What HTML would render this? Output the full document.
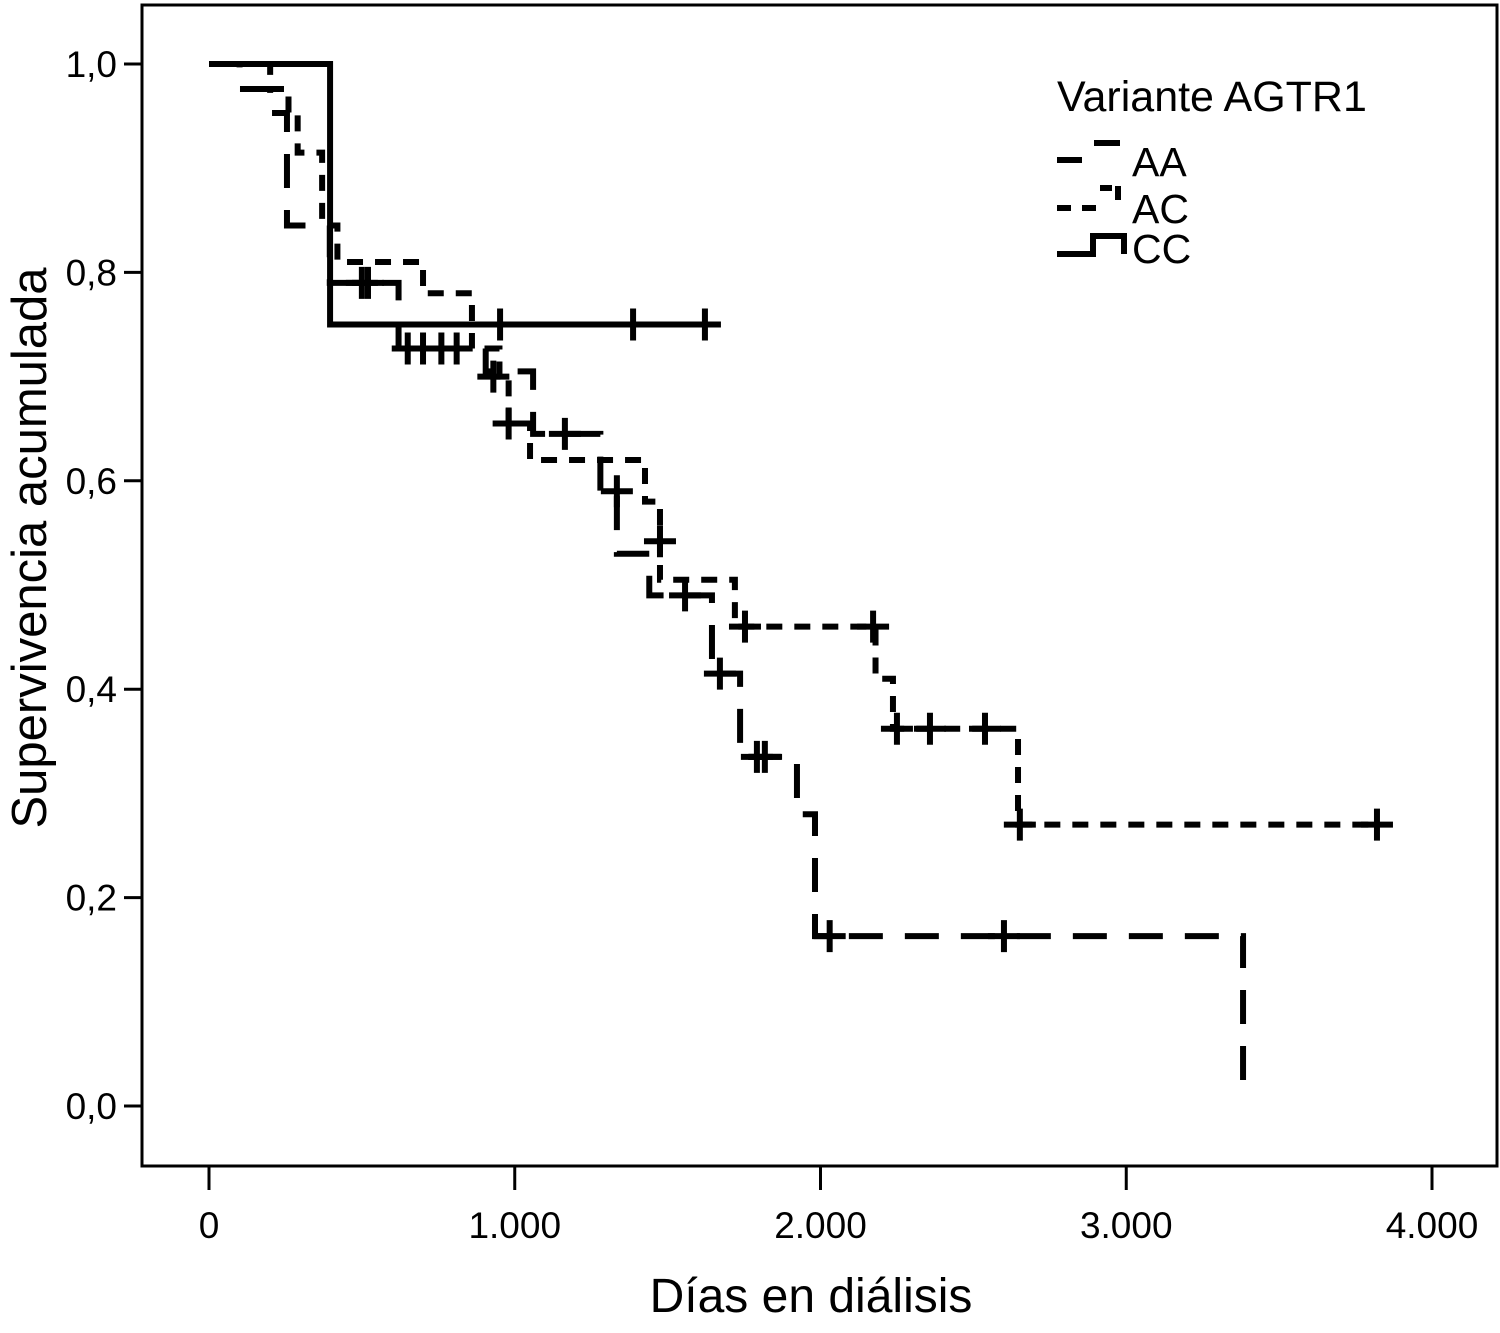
<!DOCTYPE html>
<html><head><meta charset="utf-8"><style>
body{margin:0;background:#fff}
svg{display:block}
text{font-family:"Liberation Sans",Arial,sans-serif;fill:#000}
</style></head><body>
<svg id="chart" width="1500" height="1333" viewBox="0 0 1500 1333" xmlns="http://www.w3.org/2000/svg">
<rect x="142" y="5" width="1355" height="1161" fill="none" stroke="#000" stroke-width="3"/>
<g id="axes"></g>
<g id="series"></g>
<text transform="translate(46,548) rotate(-90)" text-anchor="middle" font-size="49">Supervivencia acumulada</text>
<text x="811" y="1312" text-anchor="middle" font-size="48">Días en diálisis</text>
<g>
<text x="1057" y="111" font-size="43">Variante AGTR1</text>
<path d="M1057 160 H1082 M1094 143 H1120" stroke="#000" stroke-width="6" fill="none"/>
<text x="1132" y="176" font-size="41">AA</text>
<path d="M1057 208 H1071 M1082 208 H1096 M1100 188 H1112 M1118 186 V200" stroke="#000" stroke-width="6" fill="none"/>
<text x="1132" y="223" font-size="41">AC</text>
<path d="M1057 254 H1093 V236 H1124 V254" stroke="#000" stroke-width="6" fill="none"/>
<text x="1132" y="263" font-size="41">CC</text>
</g>
</svg>
<script>
const xTicks=[0,1000,2000,3000,4000];
const xTickLabels=["0","1.000","2.000","3.000","4.000"];
const yTicks=[0,0.2,0.4,0.6,0.8,1.0];
const yTickLabels=["0,0","0,2","0,4","0,6","0,8","1,0"];
const aaTimes=[0,100,200,255,395,620,905,1060,1280,1334,1440,1645,1737,1923,1982,3382];
const aaSurv=[1,0.976,0.953,0.845,0.79,0.727,0.705,0.645,0.59,0.53,0.49,0.415,0.335,0.28,0.163,0.02];
const aaEnd=3382;
const aaCensT=[520,1164,1334,1557,1671,1792,1818,2030,2600];
const aaCensS=[0.79,0.645,0.59,0.49,0.415,0.335,0.335,0.163,0.163];
const acTimes=[0,200,260,290,370,420,700,860,950,980,1050,1426,1475,1720,2180,2237,2646];
const acSurv=[1,0.976,0.953,0.915,0.845,0.81,0.78,0.727,0.70,0.655,0.62,0.58,0.505,0.46,0.41,0.362,0.27];
const acEnd=3820;
const acCensT=[500,650,700,760,810,930,980,1475,1753,2172,2250,2358,2538,2652,3820];
const acCensS=[0.79,0.727,0.727,0.727,0.727,0.70,0.655,0.542,0.46,0.46,0.362,0.362,0.362,0.27,0.27];
const ccTimes=[0,396];
const ccSurv=[1,0.75];
const ccEnd=1661;
const ccCensT=[952,1387,1622];
const ccCensS=[0.75,0.75,0.75];

const X=d=>209+d*0.30575;
const Y=s=>1106-s*1042;
const NS="http://www.w3.org/2000/svg";
const axes=document.getElementById('axes');
const ser=document.getElementById('series');
function mk(tag,attrs,parent){const e=document.createElementNS(NS,tag);for(const k in attrs)e.setAttribute(k,attrs[k]);parent.appendChild(e);return e;}
xTicks.forEach((t,i)=>{
  const l=mk('line',{x1:X(t),x2:X(t),y1:1166,y2:1190,stroke:'#000','stroke-width':3},axes);
  
  
  const tx=mk('text',{x:X(t),y:1238,'text-anchor':'middle','font-size':37},axes);
  tx.textContent=xTickLabels[i];
  
  
});
yTicks.forEach((t,i)=>{
  const l=mk('line',{x1:124,x2:142,y1:Y(t),y2:Y(t),stroke:'#000','stroke-width':3},axes);
  
  
  const tx=mk('text',{x:117,y:Y(t)+13,'text-anchor':'end','font-size':37},axes);
  tx.textContent=yTickLabels[i];
  
  
});
function curve(times,surv,end,ct,cs,dash,name){
  let d='M'+X(times[0])+' '+Y(surv[0]);
  for(let i=1;i<times.length;i++){d+=' H'+X(times[i])+' V'+Y(surv[i]);}
  d+=' H'+X(end);
  const p=mk('path',{d:d,fill:'none',stroke:'#000','stroke-width':6,'stroke-dasharray':dash},ser);
  
  
  ct.forEach((t,i)=>{
    const x=X(t),y=Y(cs[i]);
    const c=mk('path',{d:`M${x-16} ${y} H${x+16} M${x} ${y-16} V${y+16}`,stroke:'#000','stroke-width':6,fill:'none'},ser);
    
    
  });
}
curve(aaTimes,aaSurv,aaEnd,aaCensT,aaCensS,'34 22','aa');
curve(acTimes,acSurv,acEnd,acCensT,acCensS,'16 12','ac');
curve(ccTimes,ccSurv,ccEnd,ccCensT,ccCensS,'none','cc');
</script>
</body></html>
